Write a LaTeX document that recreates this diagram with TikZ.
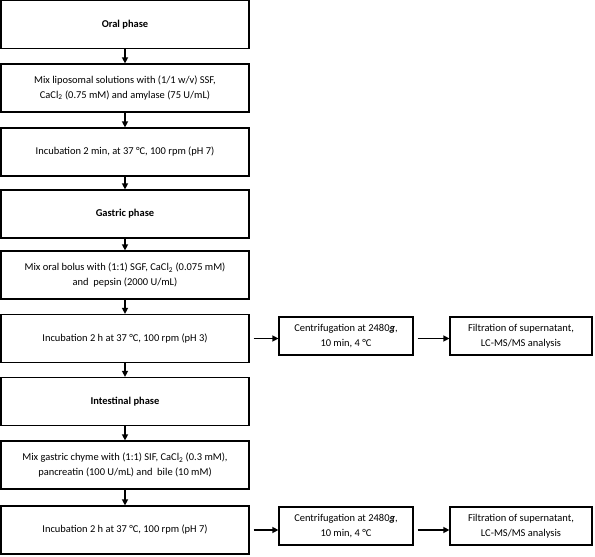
\documentclass[tikz,border=0pt]{standalone}
\usepackage{fontspec}
\setmainfont{Carlito}
\usetikzlibrary{arrows.meta}
\begin{document}
\begin{tikzpicture}[x=1bp,y=-1bp,
  box/.style={draw, line width=1.2bp, minimum width=248bp, minimum height=48bp, align=center, inner sep=0pt, font=\fontsize{10.5}{14.6}\selectfont},
  sidebox/.style={box, minimum height=38bp},
  arr/.style={-{Triangle[length=6bp,width=6bp]}, line width=1.3bp}]
\useasboundingbox (0,0) rectangle (595,557);
\node[box] (oral) at (125,24.5) {\textbf{Oral phase}};
\node[box] (mixo) at (125,88) {Mix liposomal solutions with (1/1 w/v) SSF,\\CaCl\textsubscript{2} (0.75 mM) and amylase (75 U/mL)};
\node[box] (inco) at (125,152) {Incubation 2 min, at 37 °C, 100 rpm (pH 7)};
\node[box] (gast) at (125,214) {\textbf{Gastric phase}};
\node[box] (mixg) at (125,275) {Mix oral bolus with (1:1) SGF, CaCl\textsubscript{2} (0.075 mM)\\and\ \ pepsin (2000 U/mL)};
\node[box] (incg) at (125,338.5) {Incubation 2 h at 37 °C, 100 rpm (pH 3)};
\node[box] (inte) at (125,401.5) {\textbf{Intestinal phase}};
\node[box] (mixi) at (125,465) {Mix gastric chyme with (1:1) SIF, CaCl\textsubscript{2} (0.3 mM),\\pancreatin (100 U/mL) and\ \ bile (10 mM)};
\node[box] (inci) at (125,530) {Incubation 2 h at 37 °C, 100 rpm (pH 7)};
\node[sidebox, minimum width=134bp] (cen1) at (346,336) {Centrifugation at 2480\textbf{\textit{g}},\\10 min, 4 °C};
\node[sidebox, minimum width=142bp] (fil1) at (521,336) {Filtration of supernatant,\\LC-MS/MS analysis};
\node[sidebox, minimum width=134bp] (cen2) at (346,526) {Centrifugation at 2480\textbf{\textit{g}},\\10 min, 4 °C};
\node[sidebox, minimum width=142bp] (fil2) at (521,526) {Filtration of supernatant,\\LC-MS/MS analysis};
\draw[arr] (oral) -- (mixo);
\draw[arr] (mixo) -- (inco);
\draw[arr] (inco) -- (gast);
\draw[arr] (gast) -- (mixg);
\draw[arr] (mixg) -- (incg);
\draw[arr] (incg) -- (inte);
\draw[arr] (inte) -- (mixi);
\draw[arr] (mixi) -- (inci);
\draw[arr, shorten <=4bp] (incg.east) -- (incg.east -| cen1.west);
\draw[arr, shorten <=4bp] (cen1.east |- incg.east) -- (incg.east -| fil1.west);
\draw[arr, shorten <=4bp] (inci.east) -- (inci.east -| cen2.west);
\draw[arr, shorten <=4bp] (cen2.east |- inci.east) -- (inci.east -| fil2.west);
\end{tikzpicture}
\end{document}
